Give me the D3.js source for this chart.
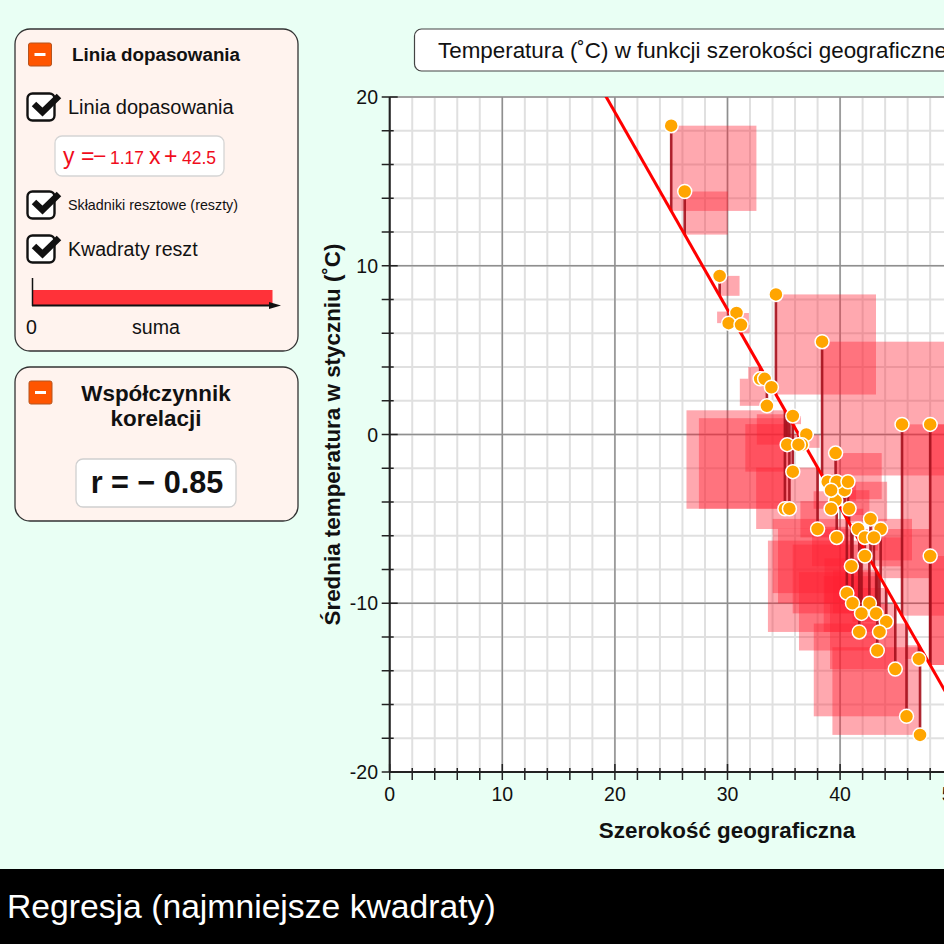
<!DOCTYPE html>
<html>
  <head>
    <meta charset="UTF-8" />
    <title>Regresja (najmniejsze kwadraty)</title>
    <script src="https://d3js.org/d3.v7.min.js"></script>
    <style>
      html, body { margin: 0; padding: 0; overflow: hidden; background: #e9fff4; }
      svg { display: block; font-family: "Liberation Sans", Arial, sans-serif; }
    </style>
  </head>
  <body>
    <div id="chart"></div>

    <script>
      // szerokosc geograficzna
      const lat = [25.0, 26.2, 29.3, 30.8, 30.1, 31.2, 32.9, 33.3, 33.9, 33.5, 34.3, 38.4, 35.8, 37.0,
        35.3, 36.6, 36.3, 35.8, 35.1, 35.5, 39.6, 39.6, 38.9, 40.4, 39.7, 40.7, 39.2, 39.2, 40.8, 38.0,
        39.7, 42.7, 41.6, 43.6, 42.2, 43.0, 42.2, 41.0, 40.6, 41.1, 42.6, 41.9, 43.2, 44.1, 41.7, 43.5,
        43.3, 47.0, 44.9, 45.9, 47.1, 45.5, 48.0, 48.0];
      // srednia temperatura w styczniu
      const temp = [18.3, 14.4, 9.4, 7.2, 6.6, 6.5, 3.3, 3.3, 2.8, 1.7, 8.3, 5.5, 1.1, 0.0,
        -0.6, -0.6, -0.6, -2.2, -4.4, -4.4, -1.1, -3.9, -2.8, -3.3, -2.8, -2.8, -3.3, -4.4, -4.4, -5.6,
        -6.1, -5.0, -5.6, -5.6, -6.1, -6.1, -7.2, -7.8, -9.4, -10.0, -10.0, -10.6, -10.6, -11.1, -11.7, -11.7,
        -12.8, -13.3, -13.9, -16.7, -17.8, 0.6, 0.6, -7.2];

      const fitSlope = -1.17;
      const fitIntercept = 42.5;

      const xMajor = [0, 10, 20, 30, 40, 50];
      const xMinor = d3.range(0, 51, 2);
      const yMajor = [-20, -10, 0, 10, 20];
      const yMinor = d3.range(-20, 21, 2);

      const points = lat.map((d, i) => ({ lat: d, temp: temp[i] }));
      const fit = (x) => fitSlope * x + fitIntercept;

      const width = 944, height = 944;
      const ink = "#111";

      const svg = d3.select("#chart").append("svg")
        .attr("width", width).attr("height", height);

      svg.append("rect").attr("width", width).attr("height", height).attr("fill", "#e9fff4");

      ///////////////////////plot///////////////////////////////

      const x = d3.scaleLinear().domain([0, 50]).range([389.7, 952.7]);
      const y = d3.scaleLinear().domain([-20, 20]).range([772, 97]);

      svg.append("clipPath").attr("id", "plotClip").append("rect")
        .attr("x", x(0)).attr("y", y(20))
        .attr("width", x(50) - x(0)).attr("height", y(-20) - y(20));

      svg.append("rect")
        .attr("x", x(0)).attr("y", y(20))
        .attr("width", x(50) - x(0)).attr("height", y(-20) - y(20))
        .attr("fill", "#fff");

      const grid = svg.append("g");
      grid.selectAll(".vMinor").data(xMinor).enter().append("line")
        .attr("x1", (d) => x(d)).attr("x2", (d) => x(d))
        .attr("y1", y(20)).attr("y2", y(-20))
        .attr("stroke", "#e0e0e0").attr("stroke-width", 2);
      grid.selectAll(".hMinor").data(yMinor).enter().append("line")
        .attr("x1", x(0)).attr("x2", x(50))
        .attr("y1", (d) => y(d)).attr("y2", (d) => y(d))
        .attr("stroke", "#e0e0e0").attr("stroke-width", 2);
      grid.selectAll(".vMajor").data(xMajor).enter().append("line")
        .attr("x1", (d) => x(d)).attr("x2", (d) => x(d))
        .attr("y1", y(20)).attr("y2", y(-20))
        .attr("stroke", "#8f8f8f").attr("stroke-width", 1.5);
      grid.selectAll(".hMajor").data(yMajor).enter().append("line")
        .attr("x1", x(0)).attr("x2", x(50))
        .attr("y1", (d) => y(d)).attr("y2", (d) => y(d))
        .attr("stroke", "#8f8f8f").attr("stroke-width", 1.5);

      // kwadraty reszt: nad linia w prawo, pod linia w lewo
      const plot = svg.append("g").attr("clip-path", "url(#plotClip)");
      plot.selectAll(".square").data(points).enter().append("rect")
        .attr("class", "square")
        .attr("x", (d) => {
          const side = Math.abs(y(d.temp) - y(fit(d.lat)));
          return d.temp > fit(d.lat) ? x(d.lat) : x(d.lat) - side;
        })
        .attr("y", (d) => Math.min(y(d.temp), y(fit(d.lat))))
        .attr("width", (d) => Math.abs(y(d.temp) - y(fit(d.lat))))
        .attr("height", (d) => Math.abs(y(d.temp) - y(fit(d.lat))))
        .attr("fill", "#ff2030").attr("fill-opacity", 0.39);

      plot.selectAll(".residual").data(points).enter().append("line")
        .attr("x1", (d) => x(d.lat)).attr("x2", (d) => x(d.lat))
        .attr("y1", (d) => y(d.temp)).attr("y2", (d) => y(fit(d.lat)))
        .attr("stroke", "#a50f1c").attr("stroke-width", 2.6).attr("stroke-opacity", 0.9);

      plot.append("line")
        .attr("x1", x(15)).attr("y1", y(fit(15)))
        .attr("x2", x(50)).attr("y2", y(fit(50)))
        .attr("stroke", "#f00").attr("stroke-width", 3);

      svg.append("g").selectAll("circle").data(points).enter().append("circle")
        .attr("cx", (d) => x(d.lat)).attr("cy", (d) => y(d.temp))
        .attr("r", 7).attr("fill", "#ffa500")
        .attr("stroke", "#fff").attr("stroke-width", 1.5);

      ///////////////////////axes///////////////////////////////

      const axes = svg.append("g").attr("stroke", "#222");
      axes.append("line").attr("x1", x(0)).attr("x2", x(50))
        .attr("y1", y(-20)).attr("y2", y(-20)).attr("stroke-width", 2);
      axes.append("line").attr("x1", x(0)).attr("x2", x(0))
        .attr("y1", y(20)).attr("y2", y(-20)).attr("stroke-width", 2);
      axes.selectAll(".xt").data(xMinor).enter().append("line")
        .attr("x1", (d) => x(d)).attr("x2", (d) => x(d))
        .attr("y1", (d) => y(-20) - (d % 10 ? 4 : 8)).attr("y2", y(-20) + 8)
        .attr("stroke-width", 1.5);
      axes.selectAll(".yt").data(yMinor).enter().append("line")
        .attr("y1", (d) => y(d)).attr("y2", (d) => y(d))
        .attr("x1", x(0) - 8).attr("x2", (d) => x(0) + (d % 10 ? 4 : 8))
        .attr("stroke-width", 1.5);

      svg.selectAll(".xl").data(xMajor).enter().append("text")
        .attr("x", (d) => x(d)).attr("y", 801)
        .attr("text-anchor", "middle").attr("font-size", 19.5).attr("fill", ink)
        .text((d) => d);
      svg.selectAll(".yl").data(yMajor).enter().append("text")
        .attr("x", 378).attr("y", (d) => y(d) + 7)
        .attr("text-anchor", "end").attr("font-size", 19.5).attr("fill", ink)
        .text((d) => d);

      svg.append("text").attr("x", 727).attr("y", 838)
        .attr("text-anchor", "middle").attr("font-size", 22.4).attr("font-weight", "bold").attr("fill", ink)
        .text("Szerokość geograficzna");
      svg.append("text").attr("transform", "translate(340,434.5) rotate(-90)")
        .attr("text-anchor", "middle").attr("font-size", 22.4).attr("font-weight", "bold").attr("fill", ink)
        .text("Średnia temperatura w styczniu (˚C)");

      // tytul wykresu
      svg.append("rect").attr("x", 414.5).attr("y", 29).attr("width", 700).attr("height", 42).attr("rx", 7)
        .attr("fill", "#fff").attr("stroke", "#444").attr("stroke-width", 1.2);
      svg.append("text").attr("x", 438).attr("y", 58).attr("font-size", 22.4).attr("fill", ink)
        .text("Temperatura (˚C) w funkcji szerokości geograficznej");

      ///////////////////////panels///////////////////////////////

      function panel(py, h) {
        svg.append("rect").attr("x", 15).attr("y", py).attr("width", 283).attr("height", h).attr("rx", 15)
          .attr("fill", "#fff3ee").attr("stroke", "#333").attr("stroke-width", 1.3);
      }

      function minusButton(bx, by) {
        svg.append("rect").attr("x", bx).attr("y", by).attr("width", 23).attr("height", 23).attr("rx", 2)
          .attr("fill", "#ff5500").attr("stroke", "#b5541f").attr("stroke-width", 1);
        svg.append("rect").attr("x", bx + 6).attr("y", by + 10).attr("width", 11).attr("height", 3)
          .attr("fill", "#fff");
      }

      function checkbox(cy) {
        svg.append("rect").attr("x", 27.5).attr("y", cy - 13.5).attr("width", 27).attr("height", 27).attr("rx", 5)
          .attr("fill", "#fff").attr("stroke", "#111").attr("stroke-width", 2.4);
        svg.append("path").attr("d", `M34,${cy - 3} L42.5,${cy + 5} L59,${cy - 11}`)
          .attr("fill", "none").attr("stroke", "#111").attr("stroke-width", 6.5);
      }

      function label(lx, ly, size, txt, weight, anchor) {
        return svg.append("text").attr("x", lx).attr("y", ly).attr("font-size", size)
          .attr("font-weight", weight || "normal").attr("text-anchor", anchor || "start")
          .attr("fill", ink).text(txt);
      }

      panel(29, 322);
      minusButton(28.5, 43);
      label(72, 61, 18.8, "Linia dopasowania", "bold");
      checkbox(107);
      label(68, 114, 20, "Linia dopasowania");

      svg.append("rect").attr("x", 55).attr("y", 136).attr("width", 169).attr("height", 40).attr("rx", 7)
        .attr("fill", "#fff").attr("stroke", "#d5d5d5").attr("stroke-width", 1.3);
      const eq = svg.append("text").attr("y", 164).attr("font-size", 23).attr("fill", "#f00c1c");
      eq.append("tspan").attr("x", 63).text("y =");
      eq.append("tspan").attr("x", 93).text("−");
      eq.append("tspan").attr("x", 110).attr("font-size", 17.5).text(Math.abs(fitSlope));
      eq.append("tspan").attr("x", 149).text("x");
      eq.append("tspan").attr("x", 164).text("+");
      eq.append("tspan").attr("x", 182).attr("font-size", 17.5).text(fitIntercept);

      checkbox(205);
      label(68, 210, 14.3, "Składniki resztowe (reszty)");
      checkbox(249);
      label(68, 256, 19.6, "Kwadraty reszt");

      // suma kwadratow reszt
      const sumSq = d3.sum(points, (d) => Math.pow(d.temp - fit(d.lat), 2));
      const sumScale = d3.scaleLinear().domain([0, sumSq]).range([33, 272.5]);
      svg.append("rect").attr("x", sumScale(0)).attr("y", 290)
        .attr("width", sumScale(sumSq) - sumScale(0)).attr("height", 15).attr("fill", "#ff3239");
      svg.append("line").attr("x1", 32.5).attr("x2", 32.5).attr("y1", 278).attr("y2", 306)
        .attr("stroke", "#111").attr("stroke-width", 1.5);
      svg.append("line").attr("x1", 32).attr("x2", 272).attr("y1", 305.5).attr("y2", 305.5)
        .attr("stroke", "#111").attr("stroke-width", 2);
      svg.append("path").attr("d", "M269,302 L281,305.5 L269,309 Z").attr("fill", "#111");
      label(26, 334, 19.6, "0");
      label(156, 334, 19.6, "suma", "normal", "middle");

      panel(367, 154);
      minusButton(29, 381);
      label(156, 401, 22.4, "Współczynnik", "bold", "middle");
      label(156, 426, 22.4, "korelacji", "bold", "middle");
      svg.append("rect").attr("x", 76).attr("y", 459).attr("width", 160).attr("height", 48).attr("rx", 7)
        .attr("fill", "#fff").attr("stroke", "#d0d0d0").attr("stroke-width", 1.3);
      label(157, 493, 30.6, "r = − 0.85", "bold", "middle");

      // pasek tytulu na dole
      svg.append("rect").attr("x", 0).attr("y", 869).attr("width", width).attr("height", 75).attr("fill", "#000");
      svg.append("text").attr("x", 7).attr("y", 918).attr("font-size", 33.7).attr("fill", "#fff")
        .text("Regresja (najmniejsze kwadraty)");
    </script>
  </body>
</html>
